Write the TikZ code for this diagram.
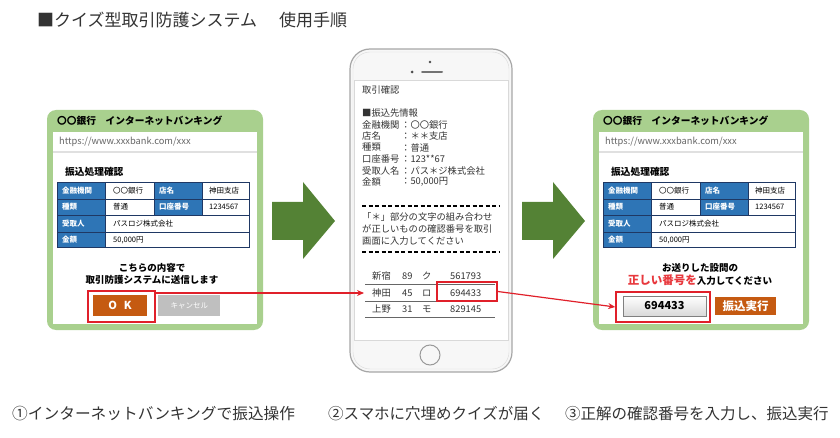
\documentclass[tikz,border=0pt]{standalone}
\usepackage{fontspec}
\setmainfont{Noto Sans CJK JP}
\usetikzlibrary{positioning, arrows.meta}
\definecolor{panelgreen}{HTML}{A9D08E}
\definecolor{arrowgreen}{HTML}{548235}
\definecolor{cellblue}{HTML}{2E75B6}
\definecolor{gridnavy}{HTML}{1F3864}
\definecolor{okorange}{HTML}{C55A11}
\definecolor{btngray}{HTML}{BFBFBF}
\definecolor{framered}{HTML}{E0202A}
\definecolor{textred}{HTML}{E8383D}
\definecolor{inkgray}{HTML}{333333}
\newcommand{\fsz}[1]{\fontsize{#1pt}{#1pt}\selectfont}

\begin{document}
\begin{tikzpicture}[x=1pt, y=-1pt]
  \tikzset{txt/.style={inner sep=0pt, anchor=west},
    cell/.style={txt, font=\fsz{7.5}},
    lbl/.style={txt, font=\fsz{7.5}\bfseries, text=white},
    phone/.style={txt, font=\fsz{9.3}, text=black!80},
    msg/.style={inner sep=0pt, font=\fsz{9.5}\bfseries},
    redframe/.style={draw=framered, line width=1.6pt, inner sep=0pt},
    btn/.style={inner sep=0pt, text=white, font=\fsz{11}\bfseries},
    redarrow/.style={draw=framered, line width=1.2pt, -{Stealth[length=7pt, width=6pt]}},
    dashrule/.style={line width=1.3pt, dash pattern=on 4pt off 2.5pt}};

  \useasboundingbox (0,0) rectangle (840,438);

  % Title
  \node[txt, font=\fsz{17}, text=inkgray] (title) at (37,20) {■クイズ型取引防護システム\hspace{22pt}使用手順};

  % Bank screens
  \foreach \px/\pn in {47/l, 593/r} {
    \begin{scope}[shift={(\px,0)}]
      \fill[panelgreen, rounded corners=9pt] (0,110) rectangle (216,330);
      \fill[white] (6,132) rectangle (210,324);
      \draw[black!12, line width=1.5pt] (6,152) -- (210,152);
      \node[txt, font=\fsz{9.7}\bfseries] (hdr\pn) at (10,121) {〇〇銀行　インターネットバンキング};
      \node[txt, font=\fsz{9.3}, text=black!60] (url\pn) at (12,142) {https://www.xxxbank.com/xxx};
      \node[txt, font=\fsz{9.7}\bfseries] (head\pn) at (18,172) {振込処理確認};

      % Table
      \fill[cellblue] (10,183) rectangle (58,248);
      \fill[cellblue] (107,183) rectangle (155,215);
      \draw[gridnavy, line width=1pt] (10,183) rectangle (202,248);
      \foreach \ry in {199,215,232} { \draw[gridnavy, line width=0.8pt] (10,\ry) -- (202,\ry); }
      \draw[gridnavy, line width=0.8pt] (58,183) -- (58,248) (107,183) -- (107,215) (155,183) -- (155,215);
      \foreach \ry/\lab/\val [count=\i] in {191/金融機関/〇〇銀行, 207/種類/普通, 223.5/受取人/パスロジ株式会社, 240/金額/{50,000円}} {
        \node[lbl] (a\pn\i) at (15,\ry) {\lab};
        \node[cell] (b\pn\i) at (66,\ry) {\val};
      }
      \foreach \ry/\lab/\val [count=\i] in {191/店名/神田支店, 207/口座番号/1234567} {
        \node[lbl] (c\pn\i) at (112,\ry) {\lab};
        \node[cell] (d\pn\i) at (162,\ry) {\val};
      }
    \end{scope}
  }

  % Left screen: send
  \node[msg] (msgl1) at (152,268) {こちらの内容で};
  \node[msg, below=2.5pt of msgl1] (msgl2) {取引防護システムに送信します};
  \node[btn, fill=okorange, minimum width=54pt, minimum height=21pt] (okbtn) at (120,305.5) {O\hspace{7pt}K};
  \node[btn, fill=btngray, font=\fsz{7.5}, minimum width=62pt, minimum height=21pt, right=11pt of okbtn] (cancel) {キャンセル};
  \node[redframe, minimum width=67pt, minimum height=31pt] (okframe) at (121.5,306.5) {};

  % Right screen: enter number
  \node[msg] (msgr1) at (700,268) {お送りした設問の};
  \node[msg, below=2pt of msgr1] (msgr2) {\textcolor{textred}{\fsz{11.5}正しい番号を}入力してください};
  \node[inner sep=0pt, draw=black!50, top color=white, bottom color=black!15, minimum width=83pt, minimum height=20pt, font=\fsz{11}\bfseries] (input) at (664.5,306) {694433};
  \node[redframe, minimum width=94pt, minimum height=30pt] (inputframe) at (663,307) {};
  \node[btn, fill=okorange, font=\fsz{11.5}\bfseries, minimum width=61pt, minimum height=18pt] (runbtn) at (745.5,306) {振込実行};

  % Big arrows
  \foreach \ax in {272,522} {
    \fill[arrowgreen] (\ax,202) -- ({\ax+31},202) -- ({\ax+31},182) -- ({\ax+63},221)
      -- ({\ax+31},259) -- ({\ax+31},240) -- (\ax,240) -- cycle;
  }

  % Smartphone
  \draw[black!35, fill=black!3, line width=1.2pt, rounded corners=20pt] (350,49) rectangle (512,372);
  \draw[black!15, rounded corners=17pt] (353,52) rectangle (509,369);
  \draw[black!15, fill=white] (354,80) rectangle (508,340);
  \fill[black!70] (430,62) circle (1.3pt);
  \fill[black!70] (412,72) circle (1.5pt);
  \draw[black!55, line width=2pt, line cap=round] (422,72) -- (442,72);
  \node[circle, draw=black!40, line width=1pt, minimum size=20pt] (home) at (430,355) {};

  \node[phone] (mail) at (362,90) {取引確認};
  \node[phone] (info) at (362,113) {■振込先情報};
  \foreach \k/\v [count=\i] in {金融機関/〇〇銀行, 店名/＊＊支店, 種類/普通, 口座番号/123**67, 受取人名/パス＊ジ株式会社, 金額/{50,000円}} {
    \node[phone] (k\i) at (362,{113+11.5*\i}) {\k};
    \node[phone] (v\i) at (401,{113+11.5*\i}) {：\v};
  }

  \draw[dashrule] (362,206) -- (500,206);
  \foreach \t [count=\i] in {「＊」部分の文字の組み合わせ, が正しいものの確認番号を取引, 画面に入力してください} {
    \node[phone] (q\i) at (362,{205+12*\i}) {\t};
  }
  \draw[dashrule] (362,252) -- (500,252);

  % Quiz table
  \foreach \ry/\a/\b/\c/\d [count=\i] in {276/新宿/89/ク/561793, 293/神田/45/ロ/694433, 309/上野/31/モ/829145} {
    \node[phone] (n\i) at (372,\ry) {\a};
    \node[phone] (m\i) at (402,\ry) {\b};
    \node[phone] (s\i) at (422,\ry) {\c};
    \node[phone] (p\i) at (450,\ry) {\d};
    \draw[black!60, line width=0.8pt] (365,{\ry+8}) -- (495,{\ry+8});
  }
  \node[redframe, minimum width=60pt, minimum height=19pt] (codeframe) at (467,291.5) {};

  % Red arrows
  \coordinate (kanda) at (364,293);
  \draw[redarrow] (okframe.east |- kanda) -- (kanda);
  \draw[redarrow] (codeframe.east) -- (inputframe.west);

  % Captions
  \node[txt, font=\fsz{15.7}, text=inkgray] (cap1) at (12,414) {①インターネットバンキングで振込操作};
  \node[txt, font=\fsz{15.5}, text=inkgray] (cap2) at (328,414) {②スマホに穴埋めクイズが届く};
  \node[txt, font=\fsz{15.5}, text=inkgray] (cap3) at (565,414) {③正解の確認番号を入力し、振込実行};
\end{tikzpicture}
\end{document}
